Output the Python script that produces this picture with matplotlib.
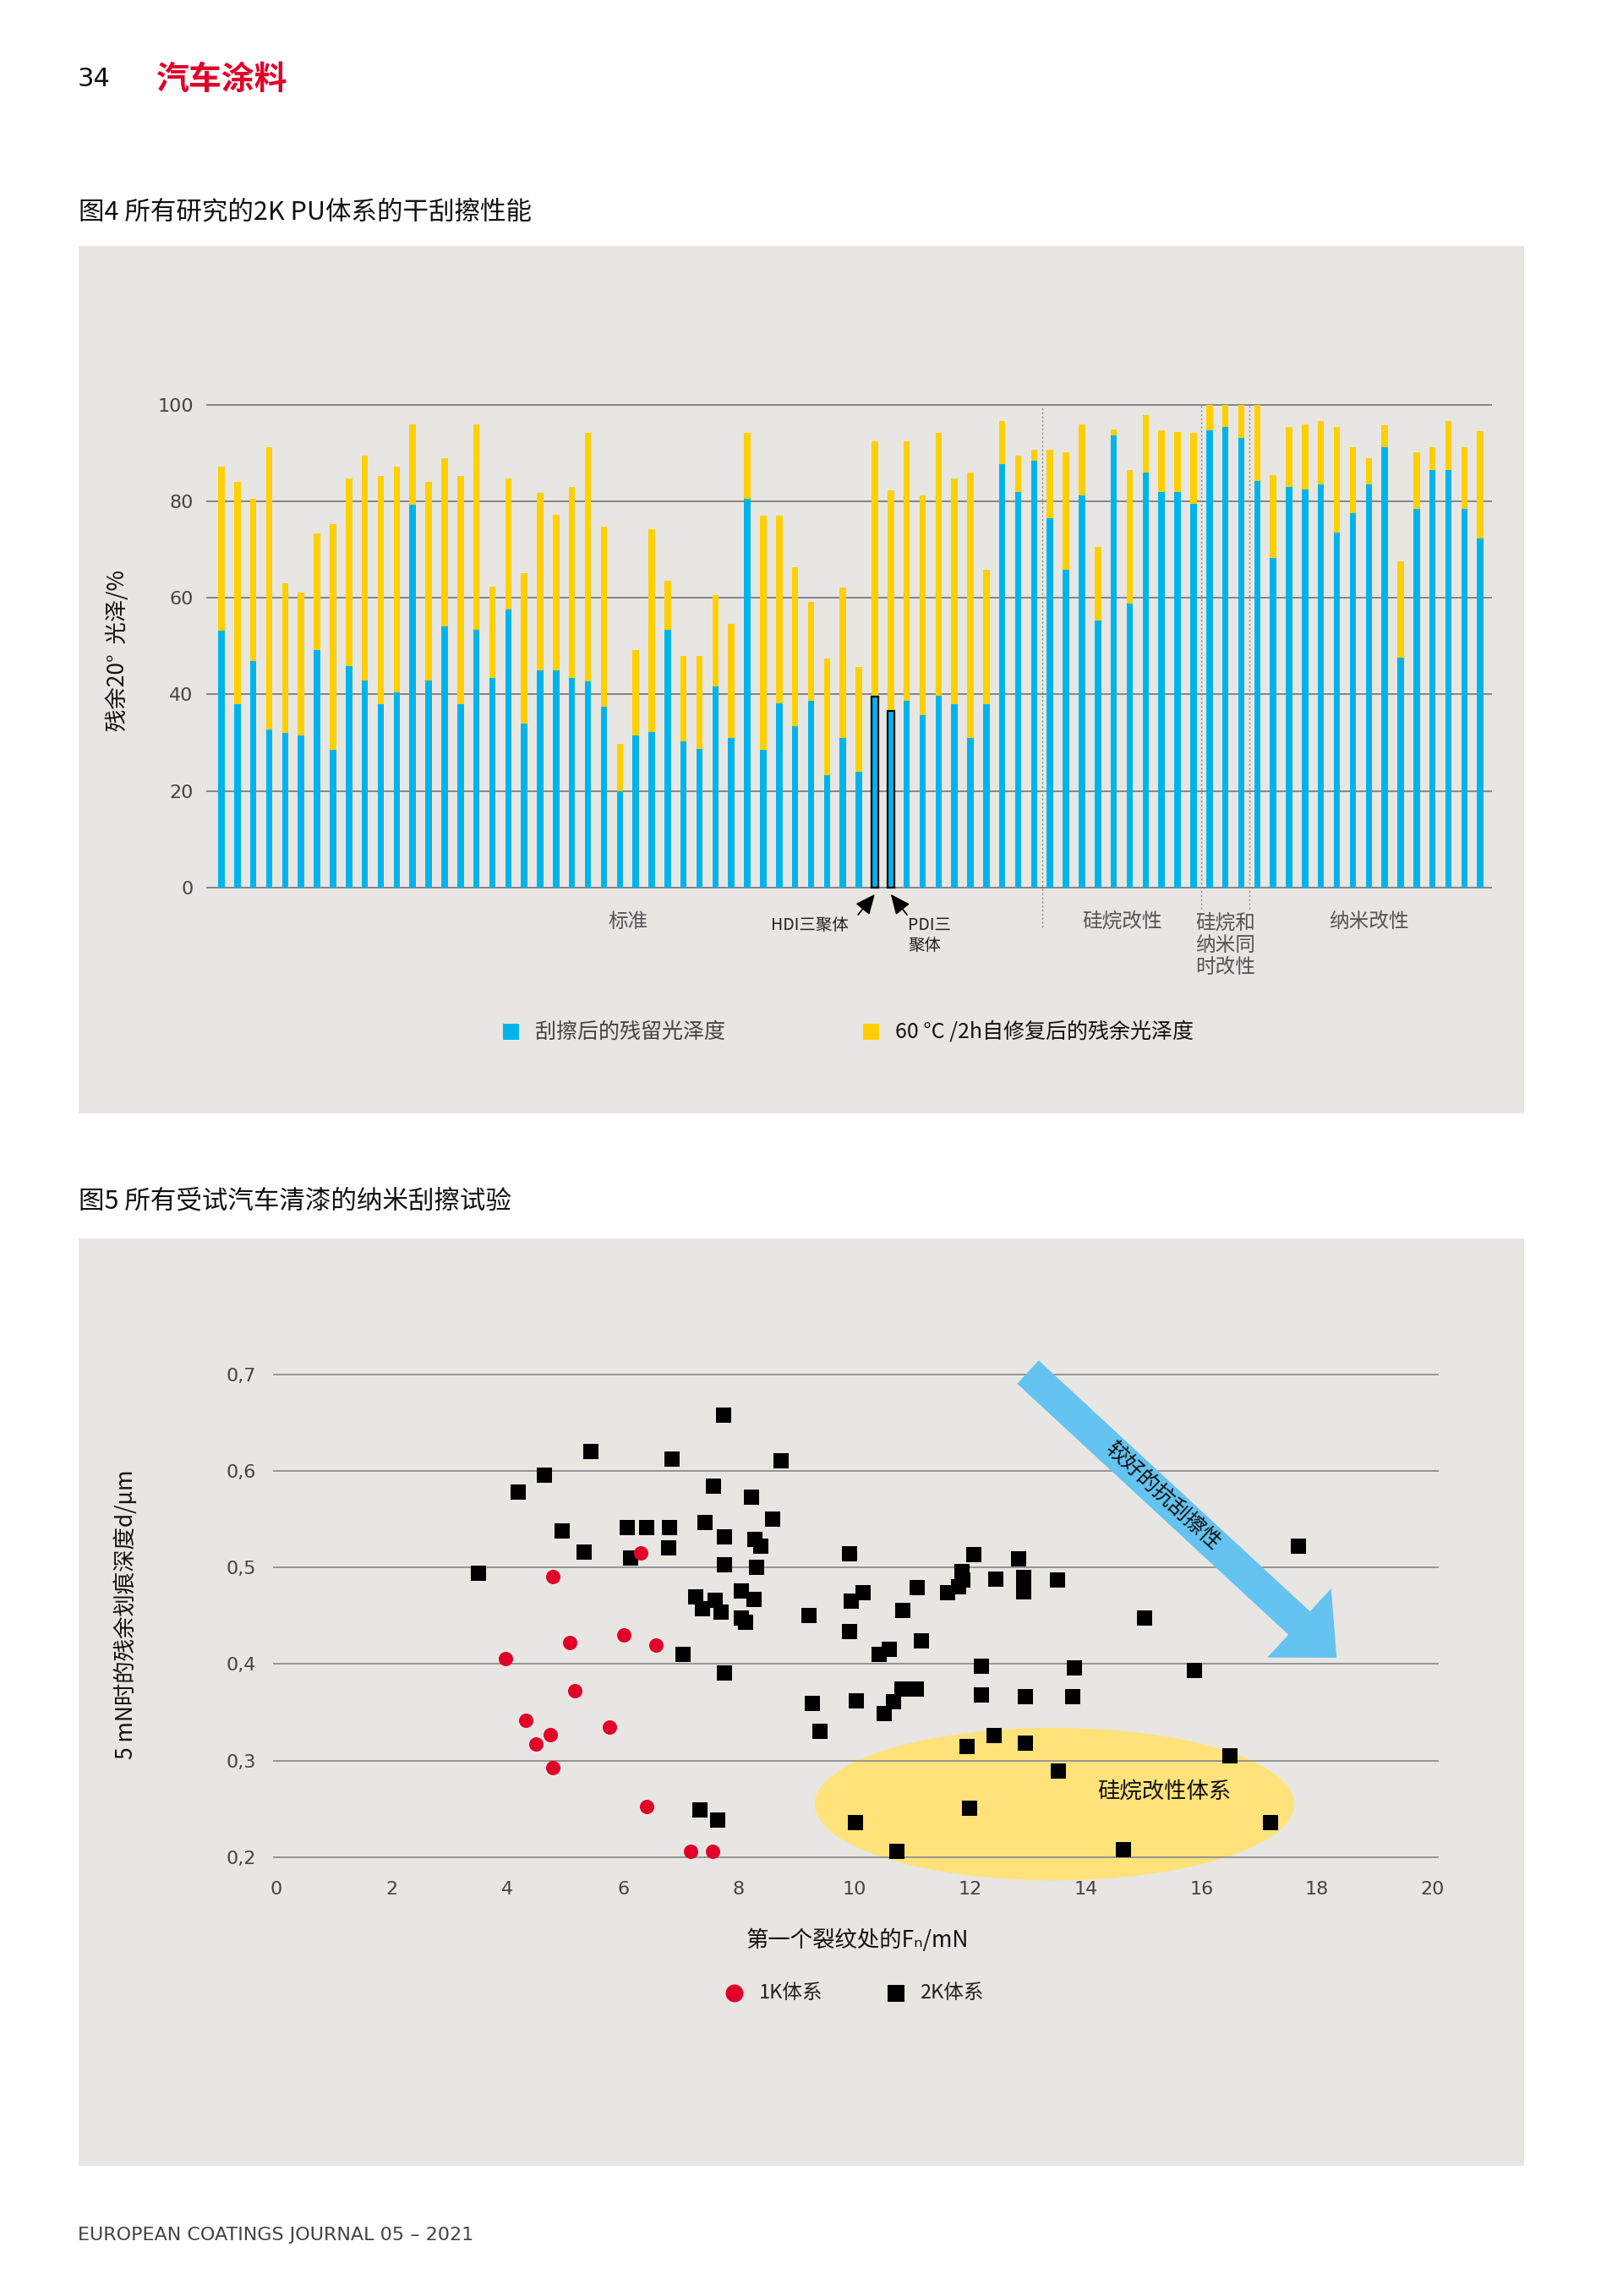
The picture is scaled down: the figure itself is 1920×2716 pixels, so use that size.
import numpy as np
import matplotlib
matplotlib.use("Agg")
import matplotlib.pyplot as plt
from matplotlib.patches import Rectangle, Ellipse

plt.rcParams['font.family'] = ['Noto Sans CJK SC', 'DejaVu Sans']

# ---- Fig 4: residual 20° gloss of all 2K PU systems ----
gloss_scratched = [53.3, 38.0, 46.9, 32.7, 32.1, 31.5, 49.2, 28.5, 45.8, 42.8,
                   38.0, 40.4, 79.4, 42.8, 54.1, 38.0, 53.4, 43.4, 57.6, 33.9,
                   45.0, 45.0, 43.4, 42.7, 37.5, 20.0, 31.5, 32.2, 53.4, 30.3,
                   28.7, 41.7, 31.0, 80.6, 28.5, 38.1, 33.4, 38.6, 23.3, 31.0,
                   24.0, 39.5, 36.6, 38.6, 35.7, 39.8, 38.0, 31.0, 38.0, 87.7,
                   81.9, 88.4, 76.5, 65.8, 81.2, 55.3, 93.6, 58.8, 86.0, 81.9,
                   81.9, 79.5, 94.8, 95.5, 93.2, 84.2, 68.2, 83.0, 82.5, 83.6,
                   73.5, 77.6, 83.6, 91.3, 47.6, 78.5, 86.5, 86.5, 78.4, 72.3]
gloss_reflow = [87.2, 84.1, 80.6, 91.3, 63.0, 61.1, 73.3, 75.3, 84.8, 89.5,
                85.3, 87.2, 96.0, 84.1, 88.9, 85.2, 96.0, 62.3, 84.7, 65.2,
                81.8, 77.2, 83.0, 94.2, 74.7, 29.8, 49.2, 74.2, 63.5, 48.0,
                48.0, 60.5, 54.6, 94.2, 77.1, 77.1, 66.4, 59.2, 47.5, 62.2,
                45.7, 92.5, 82.3, 92.5, 81.2, 94.2, 84.8, 85.9, 65.9, 96.6,
                89.5, 90.7, 90.7, 90.1, 96.0, 70.6, 94.9, 86.5, 97.9, 94.8,
                94.4, 94.2, 100.0, 100.0, 100.0, 100.0, 85.4, 95.5, 96.0, 96.7,
                95.5, 91.3, 88.9, 95.7, 67.6, 90.1, 91.2, 96.6, 91.2, 94.5]
group_names = ['标准', '硅烷改性', '硅烷和\n纳米同\n时改性', '纳米改性']
group_sizes = [52, 10, 3, 15]
trimer_idx = [41, 42]
trimer_names = ['HDI三聚体', 'PDI三\n聚体']
bar_yticks = [0, 20, 40, 60, 80, 100]

# ---- Fig 5: nano scratch test ----
k1_fn = [4.78, 6.31, 5.07, 6.01, 6.57, 3.96, 5.17, 4.32, 4.74, 4.49, 5.77, 4.78, 6.41, 7.17, 7.55]
k1_depth = [0.491, 0.515, 0.422, 0.430, 0.420, 0.406, 0.372, 0.342, 0.327, 0.317,
            0.335, 0.293, 0.252, 0.206, 0.206]
k2_fn = [3.49, 4.18, 4.63, 5.44, 4.95, 5.32, 6.07, 6.41, 6.80, 6.79, 6.13, 6.84, 7.73,
         7.56, 8.22, 8.73, 7.41, 8.58, 7.75, 8.27, 8.38, 7.75, 8.30, 7.26, 7.37, 7.59,
         7.69, 8.05, 8.26, 8.05, 8.11, 9.22, 9.92, 10.15, 9.94, 9.92, 10.42, 10.60,
         7.04, 7.75, 9.27, 10.03, 9.40, 10.52, 10.67, 10.82, 11.07, 7.32, 7.64, 10.01,
         10.83, 11.08, 11.16, 12.06, 11.86, 11.88, 11.80, 11.61, 12.45, 12.84, 12.92,
         12.92, 13.51, 15.01, 17.68, 12.20, 13.80, 15.88, 12.20, 12.95, 13.77, 12.42,
         11.94, 12.95, 16.49, 13.53, 11.99, 10.73, 14.65, 17.20]
k2_depth = [0.494, 0.578, 0.596, 0.620, 0.538, 0.516, 0.541, 0.541, 0.541, 0.520, 0.510,
            0.612, 0.658, 0.584, 0.573, 0.611, 0.547, 0.550, 0.532, 0.529, 0.522, 0.503,
            0.500, 0.470, 0.457, 0.466, 0.454, 0.476, 0.467, 0.448, 0.443, 0.450, 0.514,
            0.474, 0.465, 0.434, 0.410, 0.415, 0.410, 0.391, 0.359, 0.362, 0.330, 0.349,
            0.361, 0.374, 0.374, 0.249, 0.238, 0.236, 0.456, 0.479, 0.424, 0.513, 0.496,
            0.487, 0.480, 0.474, 0.488, 0.509, 0.490, 0.475, 0.487, 0.448, 0.522, 0.398,
            0.396, 0.393, 0.368, 0.366, 0.366, 0.326, 0.315, 0.318, 0.305, 0.289, 0.251,
            0.206, 0.208, 0.236]
scatter_xticks = list(range(0, 21, 2))
scatter_yticks = [0.2, 0.3, 0.4, 0.5, 0.6, 0.7]

W, H = 1920, 2716
panel_c = '#e8e6e3'
blue_c = '#00b4eb'
yellow_c = '#ffcf00'
red_c = '#e0002a'
grid_c = '#858585'
tick_c = '#444444'


def fx(px):
    return px / W


def fy(py):
    return 1 - py / H


def fig_rect(l, t, r, b):
    return [l / W, 1 - b / H, (r - l) / W, (b - t) / H]


fig = plt.figure(figsize=(W / 100, H / 100), dpi=100)
fig.patch.set_facecolor('white')

# page header / titles / footer
fig.text(fx(92), fy(94), '34', fontsize=22, family='DejaVu Sans', va='center', color='#111')
fig.text(fx(185), fy(94), '汽车涂料', fontsize=28, weight='bold', va='center', color=red_c)
fig.text(fx(93), fy(251), '图4 所有研究的2K PU体系的干刮擦性能', fontsize=22, va='center', color='#111')
fig.text(fx(93), fy(1421), '图5 所有受试汽车清漆的纳米刮擦试验', fontsize=22, va='center', color='#111')
fig.text(fx(92), fy(2644), 'EUROPEAN COATINGS JOURNAL 05 – 2021', fontsize=16,
         family='DejaVu Sans', va='center', color='#444')

for top, bot in [(291, 1317), (1465, 2562)]:
    fig.add_artist(Rectangle((fx(92.5), fy(bot)), (1803 - 92.5) / W, (bot - top) / H,
                             transform=fig.transFigure, fc=panel_c, ec='none', zorder=-10))

# ---------------- bar chart ----------------
ax1 = fig.add_axes(fig_rect(244, 473.2, 1765, 1055.5))
ax1.set_facecolor('none')
blue = np.array(gloss_scratched)
total = np.array(gloss_reflow)
x = np.arange(len(blue))
ax1.bar(x, blue, width=0.4, color=blue_c, zorder=3)
ax1.bar(x, total - blue, bottom=blue, width=0.4, color=yellow_c, zorder=3)
ax1.bar(x[trimer_idx], blue[trimer_idx], width=0.42, fill=False, edgecolor='k', lw=1.6, zorder=4)
ax1.set_xlim(-0.955, 79.73)
ax1.set_ylim(-1, 101)
ax1.set_yticks(bar_yticks)
ax1.set_xticks([])
ax1.yaxis.grid(True, color=grid_c, lw=1.4, zorder=1)
ax1.tick_params(axis='y', length=0, pad=11, labelsize=16, labelcolor=tick_c)
for lab in ax1.get_yticklabels():
    lab.set_family('DejaVu Sans')
for s in ax1.spines.values():
    s.set_visible(False)

bounds = np.cumsum(group_sizes)
starts = np.concatenate([[0], bounds[:-1]])
for i, b in enumerate(bounds[:-1]):
    ymin = -8.3 if i == 0 else -4.4
    ax1.vlines(b - 0.5, ymin, 100, colors='#8c8c8c', linestyles=(0, (1.5, 2)), lw=1, clip_on=False, zorder=2)
for name, s0, n in zip(group_names, starts, group_sizes):
    c = s0 + (n - 1) / 2
    if '\n' in name:
        ax1.text(c, -12.0, name, ha='center', va='center', fontsize=17, color='#555', linespacing=1.2)
    else:
        ax1.text(c, -7.05, name, ha='center', va='center', fontsize=17, color='#555')

# trimer markers
ax1.annotate('', xy=(trimer_idx[0], -1.4), xytext=(trimer_idx[0] - 1.05, -5.65),
             arrowprops=dict(arrowstyle='-|>,head_length=0.9,head_width=0.4', color='k', lw=1.2,
                             mutation_scale=16, shrinkA=0, shrinkB=0), annotation_clip=False)
ax1.annotate('', xy=(trimer_idx[1], -1.4), xytext=(trimer_idx[1] + 1.02, -5.65),
             arrowprops=dict(arrowstyle='-|>,head_length=0.9,head_width=0.4', color='k', lw=1.2,
                             mutation_scale=16, shrinkA=0, shrinkB=0), annotation_clip=False)
ax1.text(36.9, -7.9, trimer_names[0], ha='center', va='center', fontsize=14, color='#222')
ax1.text(43.08, -9.9, trimer_names[1], ha='left', va='center', fontsize=14, color='#222', linespacing=1.2)

# legend (bar chart)
sq = 19
leg_y = 1221
fig.add_artist(Rectangle((fx(604 - sq / 2), fy(leg_y + sq / 2)), sq / W, sq / H,
                         transform=fig.transFigure, fc=blue_c, ec='none'))
fig.text(fx(633), fy(leg_y), '刮擦后的残留光泽度', fontsize=18, va='center', color='#444')
fig.add_artist(Rectangle((fx(1031 - sq / 2), fy(leg_y + sq / 2)), sq / W, sq / H,
                         transform=fig.transFigure, fc=yellow_c, ec='none'))
fig.text(fx(1059), fy(leg_y), '60 °C /2h自修复后的残余光泽度', fontsize=18, va='center', color='#111')

fig.text(fx(139.5), fy(770), '残余20°  光泽/%', rotation=90, fontsize=19, ha='center', va='center', color='#111')

# ---------------- scatter chart ----------------
ax2 = fig.add_axes(fig_rect(323.4, 1603.1, 1701.7, 2214.0))
ax2.set_facecolor('none')
ax2.set_xlim(-0.05, 20.1)
ax2.set_ylim(0.185, 0.72)
ax2.set_xticks(scatter_xticks)
ax2.set_yticks(scatter_yticks)
ax2.set_yticklabels([f'{v:.1f}'.replace('.', ',') for v in scatter_yticks])
ax2.yaxis.grid(True, color='#8e8e8e', lw=1.3, zorder=1)
ax2.tick_params(axis='y', length=0, pad=15, labelsize=16, labelcolor=tick_c)
ax2.tick_params(axis='x', length=0, pad=8, labelsize=16, labelcolor=tick_c)
for lab in ax2.get_yticklabels() + ax2.get_xticklabels():
    lab.set_family('DejaVu Sans')
for s in ax2.spines.values():
    s.set_visible(False)

ax2.add_patch(Ellipse((13.46, 0.255), 8.29, 0.158, fc='#ffe27a', ec='none', zorder=1.5, clip_on=False))
ax2.text(15.36, 0.268, '硅烷改性体系', fontsize=19, ha='center', va='center', color='#111', zorder=5)

ax2.scatter(k2_fn, k2_depth, marker='s', s=185, c='k', linewidths=0, zorder=4)
ax2.scatter(k1_fn, k1_depth, marker='o', s=150, c=red_c, linewidths=0, zorder=4)

arrow_start = (13.0, 0.7025)
arrow_end = (18.34, 0.4066)
ax2.annotate('', xy=arrow_end, xytext=arrow_start,
             arrowprops=dict(arrowstyle='simple,head_length=4.35,head_width=8.0,tail_width=2.7',
                             mutation_scale=10, fc='#64c3f0', ec='none', shrinkA=0, shrinkB=0),
             annotation_clip=False, zorder=3)
p1 = ax2.transData.transform(arrow_start)
p2 = ax2.transData.transform(arrow_end)
ang = np.degrees(np.arctan2(p2[1] - p1[1], p2[0] - p1[0]))
ax2.text(15.34, 0.574, '较好的抗刮擦性', rotation=ang, rotation_mode='anchor', fontsize=18,
         ha='center', va='center', color='#111', zorder=5)

fig.text(fx(149), fy(1910), '5 mN时的残余划痕深度d/µm', rotation=90, fontsize=19, ha='center', va='center', color='#111')
fig.text(fx(1014), fy(2295), '第一个裂纹处的Fₙ/mN', fontsize=19, ha='center', va='center', color='#111')

# legend (scatter chart)
d = 21
fig.add_artist(Ellipse((fx(869), fy(2358)), d / W, d / H, transform=fig.transFigure, fc=red_c, ec='none'))
fig.text(fx(898), fy(2358), '1K体系', fontsize=17, va='center', color='#222')
fig.add_artist(Rectangle((fx(1060 - 10), fy(2358 + 10)), 20 / W, 20 / H, transform=fig.transFigure, fc='k', ec='none'))
fig.text(fx(1088), fy(2358), '2K体系', fontsize=17, va='center', color='#222')

fig.savefig('out.png', dpi=100)
